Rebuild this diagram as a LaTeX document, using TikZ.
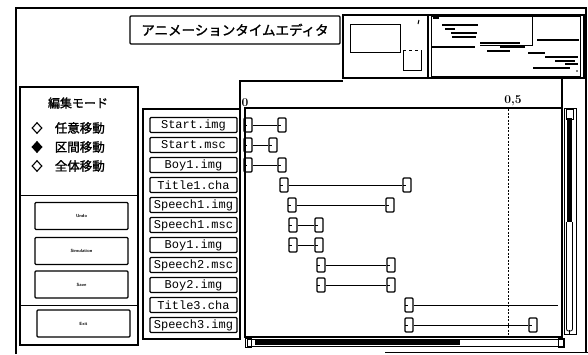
\documentclass[tikz,border=0pt]{standalone}
\usepackage{fontspec}
\setmonofont{Liberation Mono}
\newfontfamily\jp[AutoFakeBold=1.5]{Noto Sans CJK JP}
\usetikzlibrary{shapes.geometric}
\begin{document}
\begin{tikzpicture}[x=1pt,y=-1pt,line width=1pt,
  panel/.style={draw,line width=1.1pt},
  item/.style={draw,line width=1.1pt,rounded corners=1pt,minimum width=87,minimum height=15,inner sep=0pt,
     font=\ttfamily\fontsize{12}{12}\selectfont},
  btn/.style={draw,line width=1.1pt,rounded corners=1pt,minimum width=93,minimum height=27,inner sep=0pt,
     font=\sffamily\bfseries\fontsize{4.5}{5}\selectfont},
  mk/.style={draw,line width=1.3pt,rounded corners=1pt,minimum width=8,minimum height=14,inner sep=0pt,
     path picture={\draw[line width=1pt] (path picture bounding box.west) -- ++(3pt,0);}},
  opt/.style={diamond,draw,line width=1.1pt,minimum width=10,minimum height=11,inner sep=0pt},
  link/.style={line width=0.9pt},
  mini/.style={line width=1.2pt}]
\useasboundingbox (0,0) rectangle (588,354);
% window frame
\draw[line width=1.6pt] (16,354) -- (16,8) -- (586,8) -- (586,352);
\draw[line width=1pt] (385,352) -- (588,352);
% title
\node[draw,line width=1.1pt,rounded corners=1pt,minimum width=210,minimum height=28,inner sep=0pt,
  font=\jp\bfseries\fontsize{13.5}{14}\selectfont] (title) at (235,30) {アニメーションタイムエディタ};
% thumbnails
\draw[panel] (343,15) rectangle (584,78);
\draw[line width=1.4pt] (428,15) -- (428,78);
\draw[line width=1pt] (431,16) rectangle (580,76);
\draw[line width=1pt] (350,24) rectangle (400,52);
\draw[line width=1pt] (403,70) -- (403,50);
\draw[line width=1pt,dashed] (403,50) -- (421,50);
\draw[line width=1pt] (421,50) -- (421,70) -- (403,70);
\draw[line width=1pt] (419,20) -- (418,24);
\draw[mini] (433,18) -- (439,18);
\draw[mini] (442,25) -- (478,25);
\draw[mini] (445,29) -- (455,29);
\draw[mini] (451,33) -- (477,33);
\draw[mini] (452,37) -- (476,37);
\draw[line width=1pt] (532,16) -- (532,45) -- (480,45);
\draw[mini] (432,47) -- (475,47);
\draw[mini] (480,43) -- (520,43);
\draw[mini] (487,51) -- (510,51);
\draw[mini] (500,47) -- (525,47);
\draw[mini] (537,40) -- (579,40);
\draw[mini] (528,53) -- (545,53);
\draw[mini] (545,57) -- (578,57);
\draw[mini] (555,61) -- (575,61);
\draw[mini] (565,64) -- (578,64);
\draw[mini] (533,68) -- (570,68);
\fill (577,71) circle (0.8);
% edit mode panel
\draw[panel] (20,87) rectangle (138,345);
\node[font=\jp\bfseries\fontsize{12}{12}\selectfont] (mode) at (78,103) {編集モード};
\node[opt] (o1) at (37,128) {};
\node[opt,fill=black] (o2) at (37,147) {};
\node[opt] (o3) at (37,166) {};
\node[anchor=west,font=\jp\bfseries\fontsize{12.5}{12}\selectfont] (t1) at (51,128) {任意移動};
\node[anchor=west,font=\jp\bfseries\fontsize{12.5}{12}\selectfont] (t2) at (51,147) {区間移動};
\node[anchor=west,font=\jp\bfseries\fontsize{12.5}{12}\selectfont] (t3) at (51,166) {全体移動};
\draw[line width=1pt] (20,195) -- (138,195);
\draw[line width=1pt] (20,305) -- (138,305);
\node[btn] (b1) at (81.5,216) {Undo};
\node[btn] (b2) at (81.5,251) {Simulation};
\node[btn] (b3) at (81.5,284.5) {Save};
\node[btn] (b4) at (83.5,323.5) {Exit};
% file list panel
\draw[panel] (143,109) rectangle (240,339);
\foreach \i/\t in {0/Start.img,1/Start.msc,2/Boy1.img,3/Title1.cha,4/Speech1.img,5/Speech1.msc,
   6/Boy1.img,7/Speech2.msc,8/Boy2.img,9/Title3.cha,10/Speech3.img}
  \node[item] (f\i) at (193.5,125+20*\i) {\t};
% timeline panel
\draw[panel] (240,339) -- (240,81) -- (343,81);
\draw[panel] (562,78) -- (562,337) -- (245,337) -- (245,108) -- (562,108);
\node[anchor=south west,inner sep=0pt,font=\bfseries\fontsize{12}{12}\selectfont] (zero) at (241,107) {0};
\node[anchor=south,inner sep=0pt,font=\bfseries\fontsize{12}{12}\selectfont] (half) at (513,106) {0,5};
\draw[line width=1pt,dash pattern=on 2pt off 1.5pt] (508,109) -- (508,336);
% scrollbars
\draw[line width=1pt] (247,339) rectangle (563,346);
\fill (255,340) rectangle (460,344.5);
\draw[line width=1pt] (245,338) rectangle (251,347);
\draw[line width=1pt] (558,338) rectangle (564,347);
\draw[line width=1pt] (564,108) rectangle (576,334);
\fill (566.5,118) rectangle (571.5,222);
\draw[line width=0.8pt,rounded corners=2pt] (566.5,222) -- (566.5,331) -- (572.5,331) -- (572.5,222);
\draw[line width=1pt] (566,109) rectangle (573,119);
\draw[line width=0.8pt] (569,330) -- (569,334);
% timeline entries
\foreach \i/\a/\b in {0/248/282,1/248/273,2/248/282,3/284/407,4/292/390,5/293/319,6/293/319,
   7/321/391,8/321/391,10/409/533} {
  \node[mk] (s\i) at (\a,125+20*\i) {};
  \node[mk] (e\i) at (\b,125+20*\i) {};
  \draw[link] (s\i) -- (e\i);
}
\node[mk] (s9) at (409,305) {};
\coordinate (e9) at (558,305);
\draw[link] (s9) -- (e9);
\end{tikzpicture}
\end{document}
